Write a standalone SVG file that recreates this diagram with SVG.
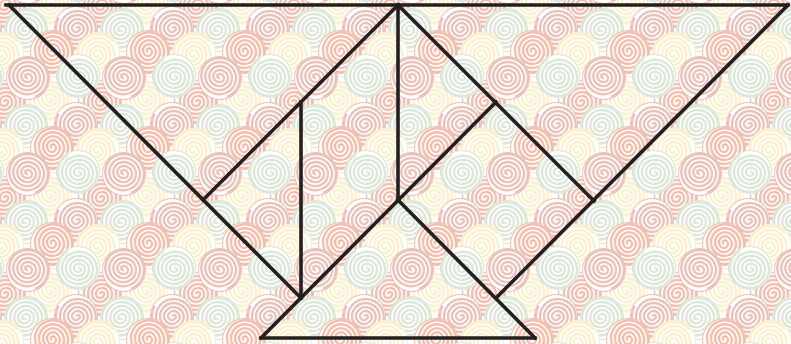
<svg xmlns="http://www.w3.org/2000/svg" xmlns:xlink="http://www.w3.org/1999/xlink" width="791" height="344" viewBox="0 0 791 344">
<style>
.ln{stroke:#231f20;stroke-width:3.6;fill:none;stroke-linecap:square;stroke-linejoin:miter}
.sp{fill:none;stroke-width:2.4}
</style>
<defs>
<symbol id="spiral" overflow="visible">
<circle cx="0" cy="0" r="21.5" fill="#ffffff"/>
<path class="sp" d="M0 0 A2 2 0 0 1 4 0 A4 4 0 0 1 -4 0 A6 6 0 0 1 8 0 A8 8 0 0 1 -8 0 A10 10 0 0 1 12 0 A12 12 0 0 1 -12 0 A14 14 0 0 1 16 0 A16 16 0 0 1 -16 0 A18 18 0 0 1 20 0 A20 20 0 0 1 -20 0"/>
</symbol>
<pattern id="bg" x="0" y="0" width="96" height="96" patternUnits="userSpaceOnUse">
<rect width="96" height="96" fill="#ffffff"/>
<g>
<use xlink:href="#spiral" x="4" y="6" stroke="#f1b7a3"/>
<use xlink:href="#spiral" x="100" y="6" stroke="#f1b7a3"/>
<use xlink:href="#spiral" x="4" y="102" stroke="#f1b7a3"/>
<use xlink:href="#spiral" x="100" y="102" stroke="#f1b7a3"/>
<use xlink:href="#spiral" x="50" y="2" stroke="#fcefc8" transform="rotate(90 50 2)"/>
<use xlink:href="#spiral" x="50" y="98" stroke="#fcefc8" transform="rotate(90 50 98)"/>
<use xlink:href="#spiral" x="26" y="30" stroke="#d7e4d5" transform="rotate(200 26 30)"/>
<use xlink:href="#spiral" x="76" y="28" stroke="#e6bbb1" transform="rotate(30 76 28)"/>
<use xlink:href="#spiral" x="-20" y="28" stroke="#e6bbb1" transform="rotate(30 -20 28)"/>
<use xlink:href="#spiral" x="2" y="54" stroke="#fcefc8" transform="rotate(140 2 54)"/>
<use xlink:href="#spiral" x="98" y="54" stroke="#fcefc8" transform="rotate(140 98 54)"/>
<use xlink:href="#spiral" x="52" y="52" stroke="#f2b5a1" transform="rotate(300 52 52)"/>
<use xlink:href="#spiral" x="28" y="78" stroke="#e6bbb1" transform="rotate(250 28 78)"/>
<use xlink:href="#spiral" x="28" y="-18" stroke="#e6bbb1" transform="rotate(250 28 -18)"/>
<use xlink:href="#spiral" x="78" y="76" stroke="#d7e4d5" transform="rotate(60 78 76)"/>
<use xlink:href="#spiral" x="-18" y="76" stroke="#d7e4d5" transform="rotate(60 -18 76)"/>
<use xlink:href="#spiral" x="78" y="-20" stroke="#d7e4d5" transform="rotate(60 78 -20)"/>
<use xlink:href="#spiral" x="-18" y="-20" stroke="#d7e4d5" transform="rotate(60 -18 -20)"/>
</g>
</pattern>
</defs>
<rect x="0" y="0" width="791" height="344" fill="#ffffff"/>
<rect id="background" x="0" y="0" width="791" height="344" fill="url(#bg)" opacity="0.88"/>
<g id="connectors" class="ln">
<line x1="6" y1="5" x2="788" y2="5"/>
<line x1="9" y1="5" x2="301" y2="298"/>
<line x1="398" y1="5" x2="203" y2="200"/>
<line x1="301" y1="102" x2="301" y2="298"/>
<line x1="398" y1="5" x2="398" y2="200"/>
<line x1="398" y1="5" x2="594" y2="201"/>
<line x1="788" y1="5" x2="496" y2="298"/>
<line x1="496" y1="102" x2="261" y2="338"/>
<line x1="398" y1="200" x2="535" y2="338"/>
<line x1="261" y1="338" x2="535" y2="338"/>
</g>
</svg>
